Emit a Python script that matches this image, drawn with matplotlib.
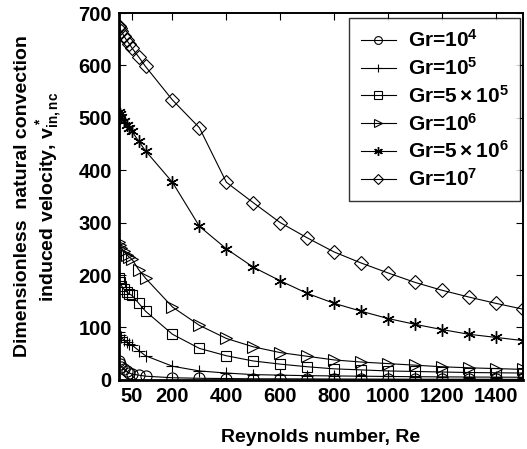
import numpy as np
import matplotlib
matplotlib.use("Agg")
import matplotlib.pyplot as plt

plt.rcParams['font.family'] = ['Liberation Sans', 'DejaVu Sans']
plt.rcParams['font.weight'] = 'bold'
plt.rcParams['mathtext.fontset'] = 'custom'
plt.rcParams['mathtext.rm'] = 'Liberation Sans:bold'
plt.rcParams['mathtext.bf'] = 'Liberation Sans:bold'
plt.rcParams['mathtext.it'] = 'Liberation Sans:bold'
plt.rcParams['mathtext.default'] = 'bf'

# Reynolds numbers
re = [1, 5, 10, 20, 30, 40, 50, 75, 100, 200, 300, 400, 500, 600, 700,
      800, 900, 1000, 1100, 1200, 1300, 1400, 1500]

# induced velocity for each Grashof number
gr_1e4 = [36, 30, 25, 20, 16, 13, 11, 9, 7, 4, 3, 2.5, 2, 2, 1.8,
          1.6, 1.5, 1.4, 1.3, 1.2, 1.2, 1.1, 1]
gr_1e5 = [92, 86, 81, 76, 72, 68, 66, 56, 46, 26, 17, 13, 10, 9, 8,
          7.5, 7, 6.5, 6, 5.7, 5.4, 5.2, 5]
gr_5e5 = [195, 186, 180, 173, 168, 164, 161, 146, 131, 87, 60, 46, 36, 30, 25,
          21, 19, 17, 16, 15, 14, 13.5, 13]
gr_1e6 = [263, 257, 252, 245, 239, 234, 230, 210, 194, 139, 104, 79, 63, 52, 45,
          38, 34, 31, 28, 25, 23, 21.5, 20]
gr_5e6 = [511, 507, 502, 494, 487, 480, 474, 455, 437, 377, 293, 250, 215, 189, 165,
          146, 131, 117, 106, 96, 87, 81, 75]
gr_1e7 = [676, 671, 665, 656, 648, 641, 633, 616, 598, 534, 481, 377, 338, 300, 271,
          244, 223, 204, 186, 171, 158, 146, 135]

labels = ['Gr=$10^4$', 'Gr=$10^5$', 'Gr=$5\\times10^5$', 'Gr=$10^6$',
          'Gr=$5\\times10^6$', 'Gr=$10^7$']
markers = ['o', '+', 's', '>', (6, 2, 0), 'D']
sizes = [8, 9, 7.5, 9, 9, 7]
series = [gr_1e4, gr_1e5, gr_5e5, gr_1e6, gr_5e6, gr_1e7]

xticks = [50, 200, 400, 600, 800, 1000, 1200, 1400]
yticks = [0, 100, 200, 300, 400, 500, 600, 700]

fig = plt.figure(figsize=(5.27, 4.49), dpi=100)
ax = fig.add_axes([0.225, 0.154, 0.767, 0.817])

for vals, lab, m, ms in zip(series, labels, markers, sizes):
    ax.plot(re, vals, color='k', lw=0.8, marker=m, ms=ms, mfc='none',
            mec='k', mew=1.0 if m == (6, 2, 0) else 0.8, label=lab)

ax.set_xlim(0, 1500)
ax.set_ylim(0, 700)
ax.set_xticks(xticks)
ax.set_yticks(yticks)
ax.tick_params(direction='in', top=True, right=True, length=5, width=0.8,
               labelsize=14.5, pad=5)
for lbl in ax.get_xticklabels() + ax.get_yticklabels():
    lbl.set_fontweight('bold')
for sp in ax.spines.values():
    sp.set_linewidth(1.4)
ax.spines['left'].set_linewidth(2.0)
ax.spines['bottom'].set_linewidth(2.0)

ax.set_xlabel('Reynolds number, Re', fontsize=14, fontweight='bold')
ax.set_ylabel('Dimensionless  natural convection\ninduced velocity, v$^*_{in,nc}$',
              fontsize=14, fontweight='bold', linespacing=1.15)
ax.xaxis.set_label_coords(0.5, -0.135)
ax.yaxis.set_label_coords(-0.135, 0.5)

leg = ax.legend(loc='upper right', fontsize=15, frameon=True, fancybox=False,
                edgecolor='k', handlelength=1.7, markerscale=0.7,
                borderpad=0.55, labelspacing=0.28, handletextpad=0.55,
                borderaxespad=0.0, bbox_to_anchor=(0.993, 0.987))
leg.get_frame().set_linewidth(1.0)
for t in leg.get_texts():
    t.set_fontweight('bold')

fig.savefig('out.png', dpi=100)
